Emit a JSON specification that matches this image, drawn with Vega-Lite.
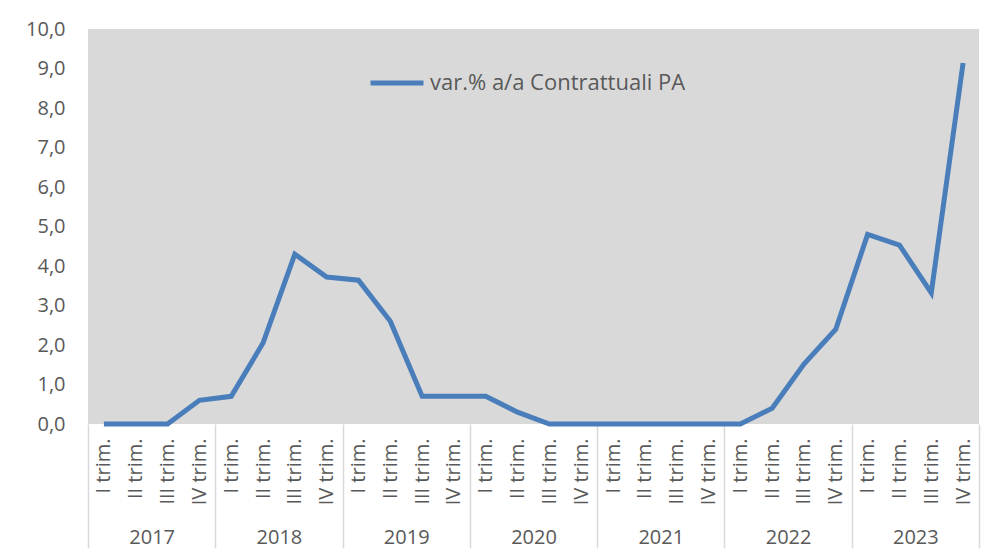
{
  "$schema": "https://vega.github.io/schema/vega-lite/v6.json",
  "width": 891,
  "height": 395,
  "autosize": {"type": "none"},
  "padding": {"left": 88, "top": 29, "right": 7, "bottom": 131},
  "background": "white",
  "config": {
    "view": {"fill": "#d9d9d9", "stroke": null},
    "font": "Open Sans",
    "axisY": {"labelOverlap": false}
  },
  "data": {
    "values": [
      {"k": "2017 I trim.", "year": "2017", "v": 0.0},
      {"k": "2017 II trim.", "year": "2017", "v": 0.0},
      {"k": "2017 III trim.", "year": "2017", "v": 0.0},
      {"k": "2017 IV trim.", "year": "2017", "v": 0.6},
      {"k": "2018 I trim.", "year": "2018", "v": 0.7},
      {"k": "2018 II trim.", "year": "2018", "v": 2.05},
      {"k": "2018 III trim.", "year": "2018", "v": 4.3},
      {"k": "2018 IV trim.", "year": "2018", "v": 3.72},
      {"k": "2019 I trim.", "year": "2019", "v": 3.64},
      {"k": "2019 II trim.", "year": "2019", "v": 2.6},
      {"k": "2019 III trim.", "year": "2019", "v": 0.7},
      {"k": "2019 IV trim.", "year": "2019", "v": 0.7},
      {"k": "2020 I trim.", "year": "2020", "v": 0.7},
      {"k": "2020 II trim.", "year": "2020", "v": 0.3},
      {"k": "2020 III trim.", "year": "2020", "v": 0.0},
      {"k": "2020 IV trim.", "year": "2020", "v": 0.0},
      {"k": "2021 I trim.", "year": "2021", "v": 0.0},
      {"k": "2021 II trim.", "year": "2021", "v": 0.0},
      {"k": "2021 III trim.", "year": "2021", "v": 0.0},
      {"k": "2021 IV trim.", "year": "2021", "v": 0.0},
      {"k": "2022 I trim.", "year": "2022", "v": 0.0},
      {"k": "2022 II trim.", "year": "2022", "v": 0.4},
      {"k": "2022 III trim.", "year": "2022", "v": 1.52},
      {"k": "2022 IV trim.", "year": "2022", "v": 2.4},
      {"k": "2023 I trim.", "year": "2023", "v": 4.8},
      {"k": "2023 II trim.", "year": "2023", "v": 4.53},
      {"k": "2023 III trim.", "year": "2023", "v": 3.32},
      {"k": "2023 IV trim.", "year": "2023", "v": 9.14}
    ]
  },
  "layer": [
    {
      "mark": {"type": "line", "strokeWidth": 5, "strokeJoin": "miter", "strokeCap": "butt"},
      "encoding": {
        "x": {
          "field": "k",
          "type": "ordinal",
          "sort": null,
          "scale": {"type": "point", "padding": 0.5},
          "axis": {
            "title": null,
            "labelExpr": "slice(datum.value, 5)",
            "labelAngle": -90,
            "labelAlign": "right",
            "labelBaseline": "middle",
            "labelPadding": 14,
            "labelFontSize": 20,
            "labelColor": "#595959",
            "labelOverlap": false,
            "ticks": false,
            "domain": false
          }
        },
        "y": {
          "field": "v",
          "type": "quantitative",
          "scale": {"domain": [0, 10], "nice": false},
          "axis": {
            "title": null,
            "values": [0, 1, 2, 3, 4, 5, 6, 7, 8, 9, 10],
            "labelExpr": "replace(format(datum.value, '.1f'), '.', ',')",
            "labelOverlap": false,
            "grid": false,
            "ticks": false,
            "domain": false,
            "labelPadding": 23,
            "labelFontSize": 20,
            "labelColor": "#595959"
          }
        },
        "color": {
          "datum": "var.% a/a Contrattuali PA",
          "scale": {"range": ["#4a7ebb"]},
          "legend": {
            "title": null,
            "orient": "none",
            "legendX": 280,
            "legendY": 25,
            "padding": 0,
            "symbolType": "stroke",
            "symbolSize": 2809,
            "symbolStrokeWidth": 5,
            "labelOffset": 4,
            "labelLimit": 500,
            "labelFontSize": 22,
            "labelColor": "#595959"
          }
        }
      }
    },
    {
      "mark": {"type": "point", "opacity": 0},
      "encoding": {
        "x": {
          "field": "year",
          "type": "ordinal",
          "sort": null,
          "scale": {"type": "band", "paddingInner": 0, "paddingOuter": 0},
          "axis": {
            "title": null,
            "orient": "bottom",
            "tickBand": "extent",
            "tickSize": 124,
            "tickColor": "#d9d9d9",
            "tickWidth": 1.5,
            "domain": false,
            "labelPadding": -11,
            "labelBaseline": "middle",
            "labelAngle": 0,
            "labelFontSize": 20,
            "labelColor": "#595959"
          }
        },
        "y": {
          "field": "v",
          "type": "quantitative",
          "axis": {
            "title": null,
            "values": [0, 1, 2, 3, 4, 5, 6, 7, 8, 9, 10],
            "labelExpr": "replace(format(datum.value, '.1f'), '.', ',')",
            "labelOverlap": false,
            "grid": false,
            "ticks": false,
            "domain": false,
            "labelPadding": 23,
            "labelFontSize": 20,
            "labelColor": "#595959"
          }
        }
      }
    }
  ],
  "resolve": {"scale": {"x": "independent"}, "axis": {"x": "independent"}}
}
